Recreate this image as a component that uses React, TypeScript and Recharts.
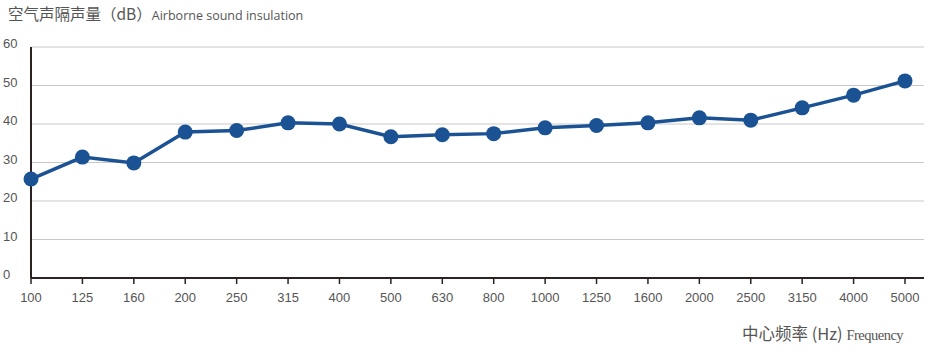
import React from 'react';
import { LineChart, Line, XAxis, YAxis, CartesianGrid } from 'recharts';

const frequencies = ['100', '125', '160', '200', '250', '315', '400', '500', '630', '800', '1000', '1250', '1600', '2000', '2500', '3150', '4000', '5000'];
const insulation = [25.7, 31.4, 29.9, 37.9, 38.3, 40.3, 40.0, 36.7, 37.2, 37.5, 39.0, 39.6, 40.3, 41.6, 41.0, 44.2, 47.5, 51.2];
const yTicks = [0, 10, 20, 30, 40, 50, 60];

const data = frequencies.map((f, i) => ({ freq: f, value: insulation[i] }));

const LABEL = '#555';
const BLUE = '#1b5294';
const SANS = "'Liberation Sans', Arial, sans-serif";

const YTick = (props: any) => {
  const { y, payload } = props;
  return (
    <text x={3} y={y} dy={1} fill={LABEL} style={{ fontFamily: SANS, fontSize: 13 }} textAnchor="start">
      {payload.value}
    </text>
  );
};

const XTick = (props: any) => {
  const { x, y, payload } = props;
  return (
    <text x={x} y={y} dy={16} fill={LABEL} style={{ fontFamily: SANS, fontSize: 13 }} textAnchor="middle">
      {payload.value}
    </text>
  );
};

export default function App() {
  return (
    <div style={{ position: 'absolute', left: 0, top: 0, width: 937, height: 356, background: '#fff' }}>
      <div style={{ position: 'absolute', left: 8, top: 1, whiteSpace: 'nowrap', color: LABEL, fontFamily: "'Noto Sans CJK SC', sans-serif" }}>
        <span style={{ fontSize: 15.5 }}>空气声隔声量（dB）</span>
        <span style={{ fontSize: 12.5, fontFamily: "'Open Sans', 'Noto Sans', sans-serif" }}>Airborne sound insulation</span>
      </div>
      <div style={{ position: 'absolute', left: 742, top: 321, whiteSpace: 'nowrap', color: LABEL }}>
        <span style={{ fontSize: 16.5, fontFamily: "'Noto Sans CJK SC', sans-serif" }}>中心频率 (Hz) </span>
        <span style={{ fontSize: 14.5, fontFamily: "'Liberation Serif', serif", letterSpacing: -0.5 }}>Frequency</span>
      </div>
      <LineChart width={937} height={356} data={data} margin={{ top: 47, right: 13, left: 0, bottom: 48 }}>
        <CartesianGrid horizontal vertical={false} stroke="#c8c8c8" strokeWidth={1} />
        <XAxis
          dataKey="freq"
          padding={{ left: 0, right: 19 }}
          height={30}
          axisLine={{ stroke: '#2b2222', strokeWidth: 2 }}
          tickLine={{ stroke: '#2b2222', strokeWidth: 1.5 }}
          tickSize={6}
          interval={0}
          tick={<XTick />}
        />
        <YAxis
          domain={[0, 60]}
          ticks={yTicks}
          width={31}
          axisLine={{ stroke: '#2b2222', strokeWidth: 2 }}
          tickLine={false}
          tick={<YTick />}
        />
        <Line
          type="linear"
          dataKey="value"
          stroke={BLUE}
          strokeWidth={3.5}
          dot={{ r: 7.5, fill: BLUE, stroke: BLUE, strokeWidth: 0 }}
          activeDot={false}
          isAnimationActive={false}
        />
      </LineChart>
    </div>
  );
}
